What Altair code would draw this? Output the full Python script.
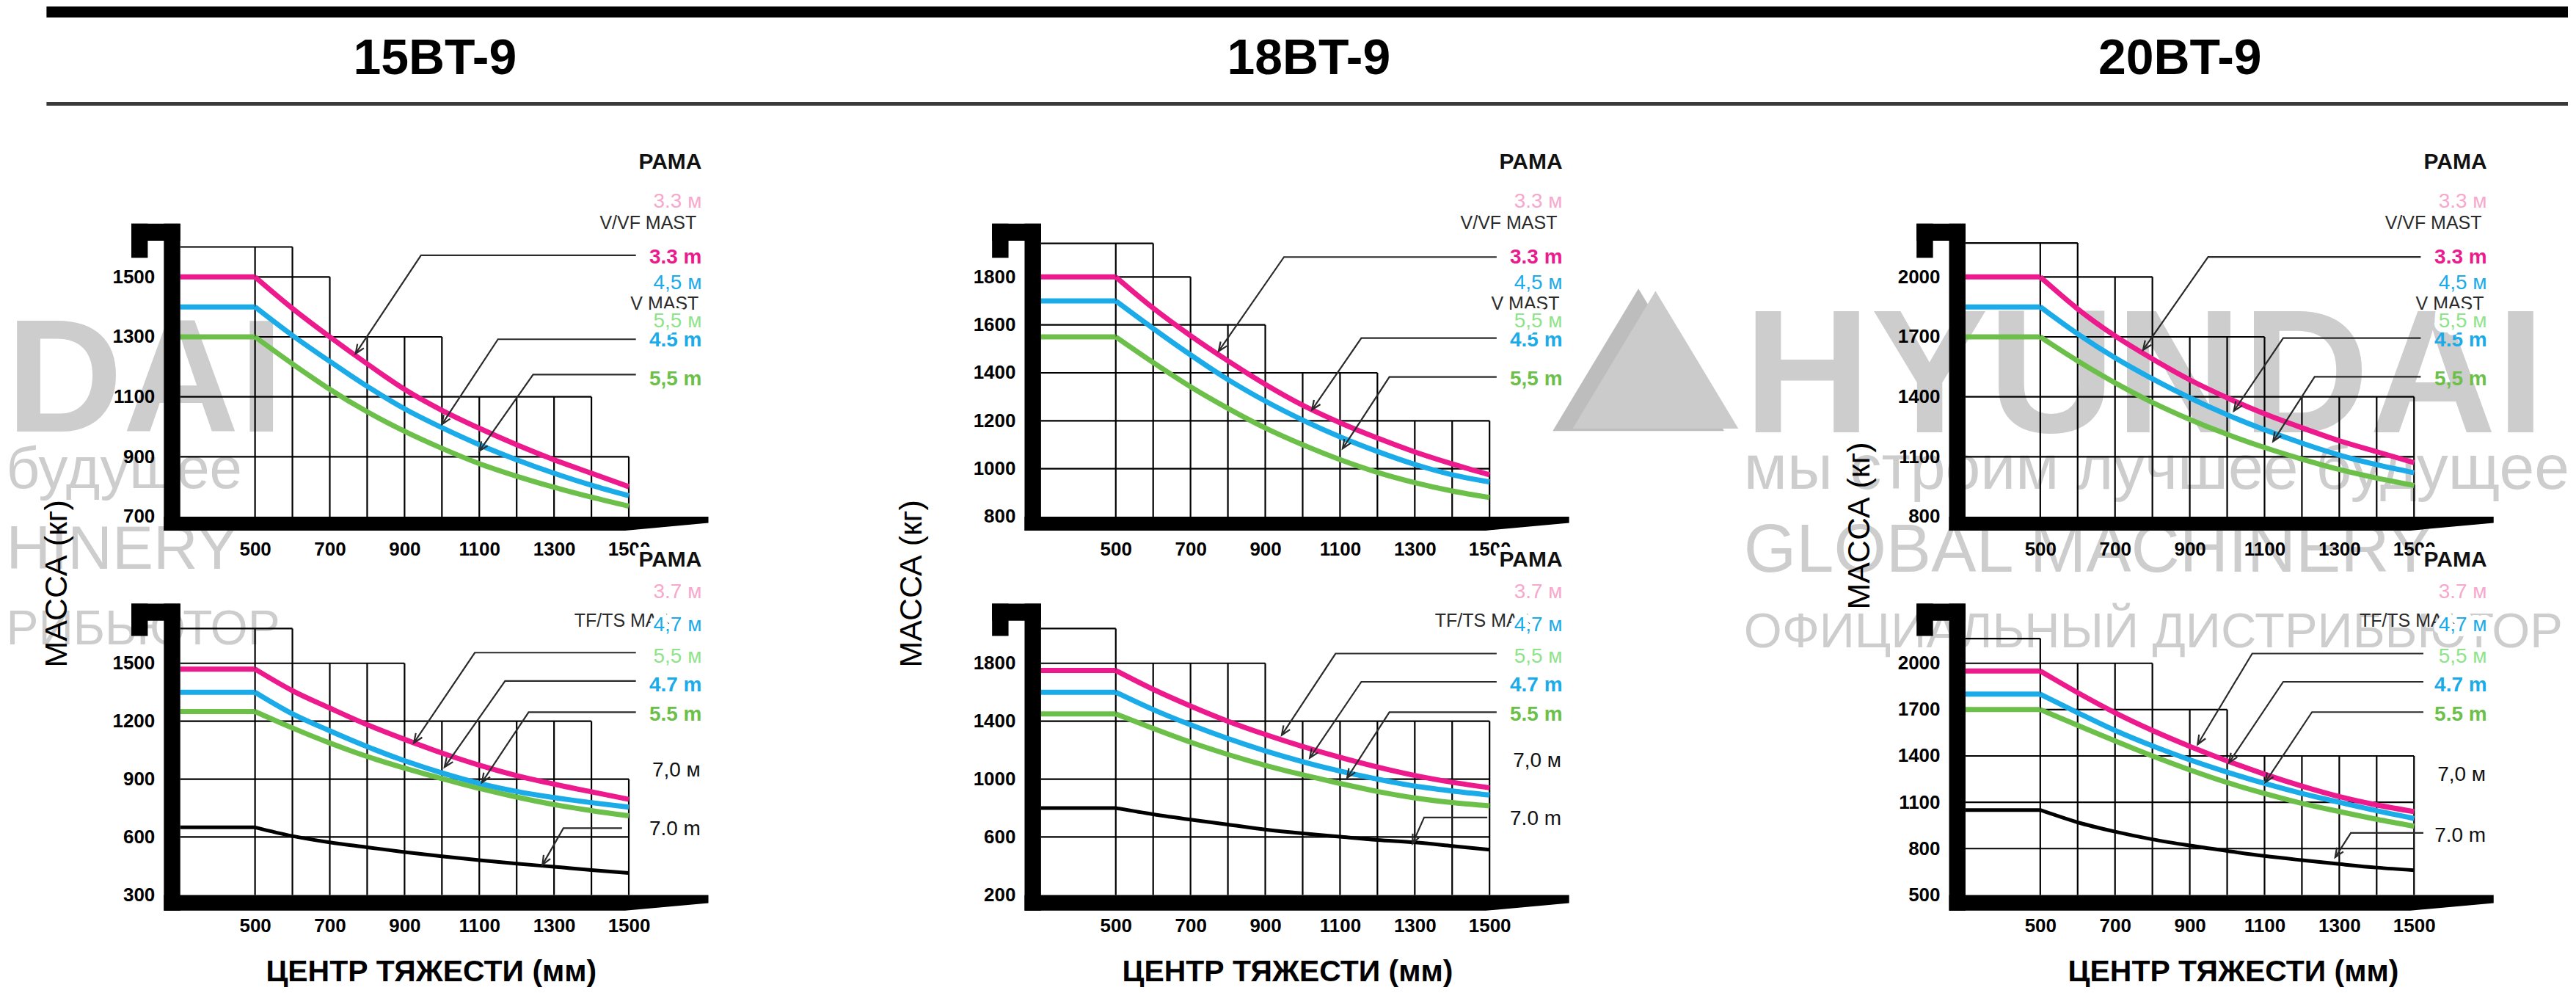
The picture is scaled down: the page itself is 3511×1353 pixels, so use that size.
import math
import altair as alt
import pandas as pd

SANS = "Liberation Sans, Arial, Helvetica, sans-serif"
NARROW = "Liberation Sans Narrow, Liberation Sans, Arial, sans-serif"

# ============================== DATA ==============================
models = ["15BT-9", "18BT-9", "20BT-9"]
cg_mm = [300, 500, 600, 700, 800, 900, 1000, 1100, 1200, 1300, 1400, 1500]
x_ticks = [500, 700, 900, 1100, 1300, 1500]
grid_cols = [500, 600, 700, 800, 900, 1000, 1100, 1200, 1300, 1400, 1500]

# 15BT-9, V/VF mast
bt15_v_ticks = [700, 900, 1100, 1300, 1500]
bt15_v_33 = [1500, 1500, 1395, 1300, 1210, 1125, 1055, 995, 940, 890, 845, 800]
bt15_v_45 = [1400, 1400, 1305, 1218, 1135, 1060, 997, 940, 890, 845, 805, 770]
bt15_v_55 = [1300, 1300, 1210, 1125, 1050, 985, 928, 877, 835, 798, 765, 735]
bt15_v_grid_top = [1600, 1600, 1500, 1300, 1300, 1300, 1100, 1100, 1100, 1100, 900]
bt15_v_hgrid = [1600, 1500, 1300, 1100, 900]
bt15_v_hgrid_end = [600, 700, 1000, 1400, 1500]
# 15BT-9, TF/TS mast
bt15_t_ticks = [300, 600, 900, 1200, 1500]
bt15_t_37 = [1470, 1470, 1358, 1268, 1182, 1106, 1035, 972, 918, 874, 834, 795]
bt15_t_47 = [1350, 1350, 1238, 1150, 1068, 995, 932, 878, 836, 804, 778, 755]
bt15_t_55 = [1250, 1250, 1165, 1087, 1017, 957, 903, 852, 807, 768, 737, 710]
bt15_t_70 = [650, 650, 605, 572, 547, 522, 500, 480, 462, 446, 429, 414]
bt15_t_grid_top = [1680, 1680, 1500, 1500, 1500, 1200, 1200, 1200, 1200, 1200, 900]
bt15_t_hgrid = [1680, 1500, 1200, 900, 600]
bt15_t_hgrid_end = [600, 900, 1400, 1500, 1500]

# 18BT-9, V/VF mast
bt18_v_ticks = [800, 1000, 1200, 1400, 1600, 1800]
bt18_v_33 = [1800, 1800, 1670, 1555, 1450, 1352, 1265, 1192, 1128, 1070, 1020, 975]
bt18_v_45 = [1700, 1700, 1585, 1475, 1372, 1282, 1203, 1133, 1072, 1018, 975, 945]
bt18_v_55 = [1550, 1550, 1443, 1342, 1252, 1170, 1100, 1038, 985, 942, 907, 880]
bt18_v_grid_top = [1940, 1940, 1800, 1600, 1600, 1400, 1400, 1400, 1200, 1200, 1200]
bt18_v_hgrid = [1940, 1800, 1600, 1400, 1200, 1000]
bt18_v_hgrid_end = [600, 700, 900, 1200, 1500, 1500]
# 18BT-9, TF/TS mast
bt18_t_ticks = [200, 600, 1000, 1400, 1800]
bt18_t_37 = [1750, 1750, 1620, 1505, 1400, 1308, 1225, 1150, 1083, 1025, 978, 940]
bt18_t_47 = [1600, 1600, 1480, 1375, 1280, 1195, 1120, 1055, 1000, 952, 918, 890]
bt18_t_55 = [1450, 1450, 1350, 1255, 1170, 1095, 1030, 970, 915, 870, 838, 815]
bt18_t_70 = [800, 800, 757, 720, 686, 652, 625, 602, 580, 563, 538, 512]
bt18_t_grid_top = [2040, 1800, 1800, 1800, 1800, 1400, 1400, 1400, 1400, 1400, 1400]
bt18_t_hgrid = [2040, 1800, 1400, 1000, 600]
bt18_t_hgrid_end = [500, 900, 1500, 1500, 1500]

# 20BT-9, V/VF mast
bt20_v_ticks = [800, 1100, 1400, 1700, 2000]
bt20_v_33 = [2000, 2000, 1840, 1705, 1590, 1485, 1395, 1315, 1245, 1180, 1125, 1070]
bt20_v_45 = [1850, 1850, 1715, 1595, 1490, 1395, 1310, 1235, 1168, 1108, 1060, 1020]
bt20_v_55 = [1700, 1700, 1580, 1470, 1372, 1287, 1212, 1146, 1088, 1036, 993, 956]
bt20_v_grid_top = [2170, 2170, 2000, 2000, 1700, 1700, 1700, 1400, 1400, 1400, 1400]
bt20_v_hgrid = [2170, 2000, 1700, 1400, 1100]
bt20_v_hgrid_end = [600, 800, 1100, 1500, 1500]
# 20BT-9, TF/TS mast
bt20_t_ticks = [500, 800, 1100, 1400, 1700, 2000]
bt20_t_37 = [1950, 1950, 1810, 1680, 1565, 1462, 1368, 1282, 1205, 1137, 1083, 1040]
bt20_t_47 = [1800, 1800, 1680, 1565, 1465, 1375, 1295, 1222, 1157, 1100, 1045, 995]
bt20_t_55 = [1700, 1700, 1598, 1497, 1400, 1310, 1228, 1157, 1093, 1040, 990, 945]
bt20_t_70 = [1050, 1050, 970, 910, 860, 820, 785, 752, 725, 700, 677, 660]
bt20_t_grid_top = [2160, 2000, 2000, 2000, 1700, 1700, 1400, 1400, 1400, 1400, 1400]
bt20_t_hgrid = [2160, 2000, 1700, 1400, 1100, 800]
bt20_t_hgrid_end = [500, 800, 1000, 1500, 1500, 1500]

# ============================== ANNOTATIONS ==============================
# leader lines (label -> knee -> arrow tip), in mm / kg
bt15_v_lead_x = [[1519, 944, 769], [1519, 1150, 1000], [1519, 1244, 1100]]
bt15_v_lead_y = [[1572, 1572, 1244], [1292, 1292, 1008], [1174, 1174, 919]]
bt15_t_lead_x = [[1519, 1088, 925], [1519, 1169, 1007], [1519, 1232, 1107], [1482, 1325, 1269]]
bt15_t_lead_y = [[1555, 1555, 1088], [1408, 1408, 962], [1247, 1247, 883], [646, 646, 456]]
bt18_v_lead_x = [[1519, 950, 775], [1519, 1157, 1025], [1519, 1232, 1107]]
bt18_v_lead_y = [[1883, 1883, 1490], [1545, 1545, 1246], [1383, 1383, 1084]]
bt18_t_lead_x = [[1519, 1088, 944], [1519, 1157, 1019], [1519, 1232, 1119], [1494, 1325, 1294]]
bt18_t_lead_y = [[1867, 1867, 1304], [1672, 1672, 1146], [1462, 1462, 1008], [735, 735, 555]]
bt20_v_lead_x = [[1518, 949, 775], [1518, 1150, 1018], [1518, 1234, 1123]]
bt20_v_lead_y = [[2100, 2100, 1634], [1694, 1694, 1329], [1500, 1500, 1177]]
bt20_t_lead_x = [[1525, 1067, 921], [1525, 1150, 1005], [1525, 1227, 1102], [1525, 1331, 1289]]
bt20_t_lead_y = [[2063, 2063, 1475], [1880, 1880, 1357], [1684, 1684, 1229], [902, 902, 744]]

INK = "#111111"
DARK = "#2a2a2a"
PINK = "#EC1A8C"
BLUE = "#1BABE8"
GREEN = "#6CC04A"
LIGHT_PINK = "#F7A8CC"
LIGHT_GREEN = "#8FE38A"

# legend column: height as a fraction of the plot height
up_lab_text = ["PAMA", "3.3 м", "V/VF MAST", "3.3 m", "4,5 м", "V MAST", "5,5 м", "4.5 m", "5,5 m"]
up_lab_frac = [1.480, 1.312, 1.226, 1.080, 0.972, 0.887, 0.813, 0.734, 0.572]
up_lab_x = [1695, 1695, 1681, 1695, 1695, 1687, 1695, 1695, 1695]
up_lab_color = [INK, LIGHT_PINK, DARK, PINK, BLUE, DARK, LIGHT_GREEN, BLUE, GREEN]
up_lab_size = [30, 28, 25, 28, 28, 25, 28, 28, 28]
up_lab_bold = [1, 0, 0, 1, 0, 0, 0, 1, 1]
up_lab_halo = [0, 1, 0, 0, 0, 0, 1, 0, 0]

lo_lab_text = ["PAMA", "3.7 м", "TF/TS MAST", "4,7 м", "5,5 м", "4.7 m", "5.5 m", "7,0 м", "7.0 m"]
lo_lab_frac = [1.446, 1.307, 1.184, 1.165, 1.028, 0.905, 0.778, 0.0, 0.0]
lo_lab_x = [1695, 1695, 1640, 1695, 1695, 1695, 1695, 1692, 1692]
lo_lab_color = [INK, LIGHT_PINK, DARK, BLUE, LIGHT_GREEN, BLUE, GREEN, INK, INK]
lo_lab_size = [30, 28, 25, 28, 28, 28, 28, 28, 28]
lo_lab_bold = [1, 0, 0, 0, 0, 1, 1, 0, 0]
lo_lab_halo = [1, 0, 0, 1, 0, 0, 0, 0, 0]
seven_fracs = {"15": (0.538, 0.282), "18": (0.579, 0.328), "20": (0.519, 0.256)}

# header (x in column pitches from the first plot's left edge)
COL_PITCH = 1190.0
HDR_W, HDR_H = 3258, 133
title_pos = [0.292, 1.294, 2.293]
bar_x0 = -0.1534
wm_text = ["HYUNDAI", "мы строим лучшее будущее", "GLOBAL MACHINERY", "ОФИЦИАЛЬНЫЙ ДИСТРИБЬЮТОР",
           "DAI", "будущее", "HINERY", "РИБЬЮТОР"]
wm_x = [1.7929, 1.7929, 1.7929, 1.7929, -0.1996, -0.1996, -0.1996, -0.1996]
wm_y = [-3.368, -3.947, -4.797, -5.571, -3.36, -3.94, -4.77, -5.54]
wm_size = [240, 86, 92, 67, 220, 80, 84, 66]
wm_bold = [1, 0, 0, 0, 1, 0, 0, 0]
tri_x = [1.672, 1.6916]
tri_y = [-2.624, -2.624]
tri_size = [54756, 51076]
tri_color = ["#bdbdbd", "#cbcbcb"]

# ============================== BUILD ==============================
PX_PER_MM = 0.51
X0 = 300
ROW_H = {"u": 327, "l": 316}
FORK = {"u": dict(top=1.222, hook=1.151, drop=1.080, bar=-0.058, tip=-0.026),
        "l": dict(top=1.257, hook=1.184, drop=1.118, bar=-0.068, tip=-0.035)}
FORK_X = dict(bar0=256, hook0=169, drop1=213, taper=1490, tip=1713)
ARROW = "M-0.42,-1 L0,0 L0.42,-1"
TRI = "M-1,0.83 L0,-0.83 L1,0.83 Z"


def make_panel(ticks, curves, grid_top, hgrid, hgrid_end, leads_x, leads_y, row, xmax,
               sev=None, ytitle=None, xtitle_x=None):
    y0, y1 = ticks[0], ticks[-1]
    R = y1 - y0
    W = round((xmax - X0) * PX_PER_MM)
    H = ROW_H[row]
    xs = alt.Scale(domain=[X0, xmax], nice=False, zero=False)
    ys = alt.Scale(domain=[y0, y1], nice=False, zero=False)
    common = dict(grid=False, domain=False, ticks=False, tickSize=0, labelFlush=False,
                  labelOverlap=False, labelFont=SANS, labelFontSize=26, labelFontWeight="bold",
                  labelColor="black", format="d")
    if row == "u":
        xaxis = alt.Axis(values=x_ticks, labelPadding=32, title="", **common)
        yaxis = alt.Axis(values=ticks, labelPadding=35, title="", **common)
    else:
        xaxis = alt.Axis(values=x_ticks, labelPadding=29, title="ЦЕНТР ТЯЖЕСТИ (мм)",
                         titleX=xtitle_x, titleY=105, titleAlign="center", titleBaseline="middle",
                         titleFont=SANS, titleFontSize=41, titleFontWeight="bold",
                         titleColor="black", **common)
        yaxis = alt.Axis(values=ticks, labelPadding=35, title="МАССА (кг)",
                         titleX=ytitle[0], titleY=ytitle[1], titleAngle=270,
                         titleAlign="center", titleBaseline="middle", titleFont=SANS,
                         titleFontSize=43, titleFontWeight="normal", titleColor="black", **common)

    def X(f):
        return alt.X(f, type="quantitative", scale=xs, axis=xaxis)

    def Y(f):
        return alt.Y(f, type="quantitative", scale=ys, axis=yaxis)

    layers = []
    # stepped grid
    vdf = pd.DataFrame({"gx": grid_cols, "gy0": [y0] * len(grid_cols), "gy1": grid_top})
    layers.append(alt.Chart(vdf).mark_rule(color="black", strokeWidth=2.2)
                  .encode(x=X("gx"), y=Y("gy0"), y2="gy1"))
    hdf = pd.DataFrame({"hy": hgrid, "hx0": [X0] * len(hgrid), "hx1": hgrid_end})
    layers.append(alt.Chart(hdf).mark_rule(color="black", strokeWidth=2.2)
                  .encode(y=Y("hy"), x=X("hx0"), x2="hx1"))
    # capacity curves
    for vals, color, width in curves:
        rows = [dict(cx=cg_mm[0], cy=vals[0], seg="flat"), dict(cx=cg_mm[1], cy=vals[1], seg="flat")]
        rows += [dict(cx=x, cy=v, seg="curve") for x, v in zip(cg_mm[1:], vals[1:])]
        layers.append(alt.Chart(pd.DataFrame(rows))
                      .mark_line(color=color, strokeWidth=width, interpolate="monotone")
                      .encode(x=X("cx"), y=Y("cy"), detail="seg:N"))
    # fork (carriage + tine)
    f = FORK[row]

    def fy(fr):
        return y0 + fr * R

    rdf = pd.DataFrame({"rx0": [FORK_X["bar0"], FORK_X["hook0"], FORK_X["hook0"]],
                        "rx1": [X0, X0, FORK_X["drop1"]],
                        "ry0": [fy(f["bar"]), fy(f["hook"]), fy(f["drop"])],
                        "ry1": [fy(f["top"])] * 3})
    layers.append(alt.Chart(rdf).mark_rect(color="black")
                  .encode(x=X("rx0"), x2="rx1", y=Y("ry0"), y2="ry1"))
    adf = pd.DataFrame({"ax": [FORK_X["bar0"], FORK_X["taper"], FORK_X["tip"]],
                        "ay": [y0] * 3,
                        "ay2": [fy(f["bar"]), fy(f["bar"]), fy(f["tip"])]})
    layers.append(alt.Chart(adf).mark_area(color="black")
                  .encode(x=X("ax"), y=Y("ay"), y2="ay2"))
    # leaders + arrowheads
    lrows, arows = [], []
    sx, sy = PX_PER_MM, H / R
    for i, (lx, ly) in enumerate(zip(leads_x, leads_y)):
        for j, (a, b) in enumerate(zip(lx, ly)):
            lrows.append(dict(lid=i, o=j, lx=a, ly=b))
        dx = (lx[-1] - lx[-2]) * sx
        dy = -(ly[-1] - ly[-2]) * sy
        ang = (math.degrees(math.atan2(dy, dx)) - 90) % 360
        arows.append(dict(px=lx[-1], py=ly[-1], ang=ang))
    layers.append(alt.Chart(pd.DataFrame(lrows)).mark_line(color=DARK, strokeWidth=2.2)
                  .encode(x=X("lx"), y=Y("ly"), detail="lid:N", order="o:Q"))
    layers.append(alt.Chart(pd.DataFrame(arows))
                  .mark_point(shape=ARROW, filled=False, size=620, color=DARK, strokeWidth=2.2,
                              opacity=1)
                  .encode(x=X("px"), y=Y("py"), angle=alt.Angle("ang:Q", scale=None)))
    # legend column
    if row == "u":
        T, FR, LX, C, S, B, HL = (up_lab_text, up_lab_frac, up_lab_x, up_lab_color,
                                  up_lab_size, up_lab_bold, up_lab_halo)
    else:
        T, FR, LX, C, S, B, HL = (lo_lab_text, lo_lab_frac[:7] + list(sev), lo_lab_x,
                                  lo_lab_color, lo_lab_size, lo_lab_bold, lo_lab_halo)
    ldf = pd.DataFrame({"t": T, "tx": LX, "ty": [fy(v) for v in FR], "c": C, "s": S,
                        "b": B, "h": HL})

    def text_layer(df, bold, halo=False):
        fw = "bold" if bold else "normal"
        if halo:
            m = alt.Chart(df).mark_text(align="right", baseline="middle", font=SANS, fontWeight=fw,
                                        fill="white", stroke="white", strokeWidth=14,
                                        strokeJoin="round")
            return m.encode(x=X("tx"), y=Y("ty"), text="t:N", size=alt.Size("s:Q", scale=None))
        m = alt.Chart(df).mark_text(align="right", baseline="middle", font=SANS, fontWeight=fw)
        return m.encode(x=X("tx"), y=Y("ty"), text="t:N", color=alt.Color("c:N", scale=None),
                        size=alt.Size("s:Q", scale=None))

    plain = ldf[ldf.h == 0]
    haloed = ldf[ldf.h == 1]
    for b in (0, 1):
        d = plain[plain.b == b]
        if len(d):
            layers.append(text_layer(d, b))
    for b in (0, 1):
        d = haloed[haloed.b == b]
        if len(d):
            layers.append(text_layer(d, b, halo=True))
    for b in (0, 1):
        d = haloed[haloed.b == b]
        if len(d):
            layers.append(text_layer(d, b))

    return alt.layer(*layers).properties(width=W, height=H)


def v_curves(a, b, c):
    return [(c, GREEN, 7), (b, BLUE, 7), (a, PINK, 7)]


def t_curves(a, b, c, d):
    return [(c, GREEN, 7), (b, BLUE, 7), (a, PINK, 7), (d, "black", 5)]


XMAX = [1500, 1670.6, 1500]

p15u = make_panel(bt15_v_ticks, v_curves(bt15_v_33, bt15_v_45, bt15_v_55), bt15_v_grid_top,
                  bt15_v_hgrid, bt15_v_hgrid_end, bt15_v_lead_x, bt15_v_lead_y, "u", XMAX[0])
p15l = make_panel(bt15_t_ticks, t_curves(bt15_t_37, bt15_t_47, bt15_t_55, bt15_t_70),
                  bt15_t_grid_top, bt15_t_hgrid, bt15_t_hgrid_end, bt15_t_lead_x, bt15_t_lead_y,
                  "l", XMAX[0], sev=seven_fracs["15"], ytitle=(-168, -109), xtitle_x=342)
p18u = make_panel(bt18_v_ticks, v_curves(bt18_v_33, bt18_v_45, bt18_v_55), bt18_v_grid_top,
                  bt18_v_hgrid, bt18_v_hgrid_end, bt18_v_lead_x, bt18_v_lead_y, "u", XMAX[1])
p18l = make_panel(bt18_t_ticks, t_curves(bt18_t_37, bt18_t_47, bt18_t_55, bt18_t_70),
                  bt18_t_grid_top, bt18_t_hgrid, bt18_t_hgrid_end, bt18_t_lead_x, bt18_t_lead_y,
                  "l", XMAX[1], sev=seven_fracs["18"], ytitle=(-177, -109), xtitle_x=336)
p20u = make_panel(bt20_v_ticks, v_curves(bt20_v_33, bt20_v_45, bt20_v_55), bt20_v_grid_top,
                  bt20_v_hgrid, bt20_v_hgrid_end, bt20_v_lead_x, bt20_v_lead_y, "u", XMAX[2])
p20l = make_panel(bt20_t_ticks, t_curves(bt20_t_37, bt20_t_47, bt20_t_55, bt20_t_70),
                  bt20_t_grid_top, bt20_t_hgrid, bt20_t_hgrid_end, bt20_t_lead_x, bt20_t_lead_y,
                  "l", XMAX[2], sev=seven_fracs["20"], ytitle=(-145, -188), xtitle_x=365)

# ---------------- header ----------------
hxs = alt.Scale(domain=[0, HDR_W / COL_PITCH], nice=False, zero=False)
hys = alt.Scale(domain=[0, 1], nice=False, zero=False)


def HX(f):
    return alt.X(f, type="quantitative", scale=hxs, axis=None)


def HY(f):
    return alt.Y(f, type="quantitative", scale=hys, axis=None)


hdr_layers = []
tri_df = pd.DataFrame({"x": tri_x, "y": tri_y, "s": tri_size, "c": tri_color})
hdr_layers.append(alt.Chart(tri_df).mark_point(shape=TRI, filled=True, opacity=1, strokeWidth=0)
                  .encode(x=HX("x"), y=HY("y"), size=alt.Size("s:Q", scale=None),
                          color=alt.Color("c:N", scale=None)))
wm_df = pd.DataFrame({"t": wm_text, "x": wm_x, "y": wm_y, "s": wm_size, "b": wm_bold})
for b in (0, 1):
    d = wm_df[wm_df.b == b]
    hdr_layers.append(alt.Chart(d).mark_text(align="left", baseline="alphabetic", font=SANS,
                                             fontWeight="bold" if b else "normal",
                                             color="#cdcdcd")
                      .encode(x=HX("x"), y=HY("y"), text="t:N", size=alt.Size("s:Q", scale=None)))
bar_df = pd.DataFrame({"x0": [bar_x0], "x1": [HDR_W / COL_PITCH], "y0": [1.0], "y1": [1 - 15 / HDR_H]})
hdr_layers.append(alt.Chart(bar_df).mark_rect(color="black")
                  .encode(x=HX("x0"), x2="x1", y=HY("y0"), y2="y1"))
line_df = pd.DataFrame({"x0": [bar_x0], "x1": [HDR_W / COL_PITCH], "y": [0.0]})
hdr_layers.append(alt.Chart(line_df).mark_rule(color="#3a3a3a", strokeWidth=5)
                  .encode(x=HX("x0"), x2="x1", y=HY("y")))
ttl_df = pd.DataFrame({"t": models, "x": title_pos, "y": [0.459] * 3})
hdr_layers.append(alt.Chart(ttl_df).mark_text(align="center", baseline="middle", font=NARROW,
                                              fontWeight="bold", fontSize=68, color="black")
                  .encode(x=HX("x"), y=HY("y"), text="t:N"))
header = alt.layer(*hdr_layers).properties(width=HDR_W, height=HDR_H)

# rows of panels; panel widths + spacing give the column positions
row_u = alt.hconcat(p15u, p18u, p20u, spacing=562.5, bounds="flush")
row_l = alt.hconcat(p15l, p18l, p20l, spacing=562.5, bounds="flush")
body = alt.vconcat(row_u, row_l, spacing=527, bounds="flush")

chart = (alt.vconcat(header, body, spacing=236, bounds="flush")
         .properties(padding=0, background="white")
         .configure_view(strokeWidth=0))

chart.save("out.html", embed_options={"renderer": "svg", "actions": False})
